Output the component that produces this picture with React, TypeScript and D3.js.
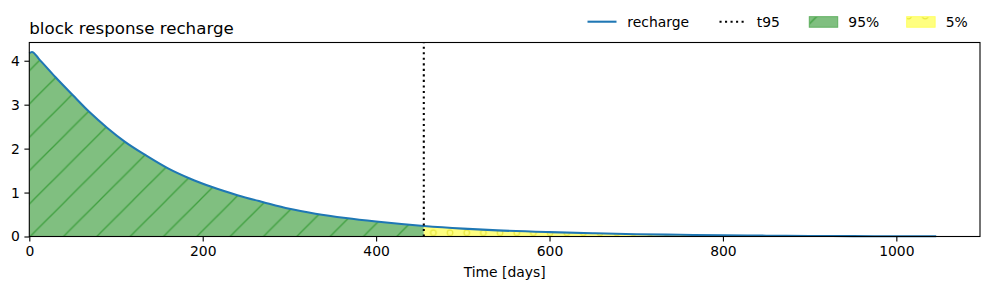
import React, { useEffect, useRef } from 'react';
import * as d3 from 'd3';

// block response of recharge
const days = [0, 3, 12, 30, 50, 70, 90, 110, 135, 160, 185, 210, 240, 270, 300, 330, 365, 400, 455, 500, 540, 600, 650, 700, 750, 800, 850, 900, 950, 1000, 1046];
const recharge = [4.17, 4.2, 4.02, 3.63, 3.22, 2.82, 2.47, 2.16, 1.84, 1.55, 1.32, 1.13, 0.94, 0.78, 0.63, 0.52, 0.42, 0.34, 0.24, 0.18, 0.14, 0.1, 0.075, 0.053, 0.038, 0.027, 0.019, 0.013, 0.009, 0.006, 0.004];
const t95 = 455;
const xTicks = [0, 200, 400, 600, 800, 1000];
const yTicks = [0, 1, 2, 3, 4];
const legendLabels = ['recharge', 't95', '95%', '5%'];

export default function App() {
  const ref = useRef<SVGSVGElement>(null);

  useEffect(() => {
    document.body.style.margin = '0';
    const svg = d3.select(ref.current);
    svg.selectAll('*').remove();
    const font = 'DejaVu Sans';

    const x = d3.scaleLinear().domain([0, 1096.5]).range([29.3, 980]);
    const y = d3.scaleLinear().domain([0, 4.415]).range([236.5, 42.5]);

    const pts: [number, number][] = days.map((d, i) => [d, recharge[i]]);

    // hatch patterns
    const defs = svg.append('defs');
    const s = 33.33;
    const p1 = defs.append('pattern').attr('id', 'hatchSlash')
      .attr('patternUnits', 'userSpaceOnUse').attr('width', s).attr('height', s);
    p1.append('rect').attr('width', s).attr('height', s).attr('fill', '#80bf80');
    [[0, s, s, 0], [-2, 2, 2, -2], [s - 2, s + 2, s + 2, s - 2]].forEach(l => {
      p1.append('line').attr('x1', l[0]).attr('y1', l[1]).attr('x2', l[2]).attr('y2', l[3])
        .attr('stroke', '#40a040').attr('stroke-width', 1.3);
    });

    const c = 16.67;
    const p2 = defs.append('pattern').attr('id', 'hatchCircle')
      .attr('patternUnits', 'userSpaceOnUse').attr('y', -0.6).attr('width', c).attr('height', 2 * c);
    p2.append('rect').attr('width', c).attr('height', 2 * c).attr('fill', '#ffff80');
    [[0, 0], [c, 0], [c / 2, c], [0, 2 * c], [c, 2 * c]].forEach(p => {
      p2.append('circle').attr('cx', p[0]).attr('cy', p[1]).attr('r', 2.8)
        .attr('fill', 'none').attr('stroke', '#e8e840').attr('stroke-width', 1.2);
    });

    const area = d3.area<[number, number]>()
      .x(d => x(d[0])).y0(y(0)).y1(d => y(d[1]))
      .curve(d3.curveMonotoneX);

    svg.append('path').datum(pts.filter(d => d[0] <= t95))
      .attr('d', area).attr('fill', 'url(#hatchSlash)');
    svg.append('path').datum(pts.filter(d => d[0] >= t95))
      .attr('d', area).attr('fill', 'url(#hatchCircle)');

    const line = d3.line<[number, number]>()
      .x(d => x(d[0])).y(d => y(d[1]))
      .curve(d3.curveMonotoneX);
    svg.append('path').datum(pts).attr('d', line)
      .attr('fill', 'none').attr('stroke', '#1f77b4').attr('stroke-width', 2.08);

    svg.append('line')
      .attr('x1', x(t95)).attr('x2', x(t95)).attr('y1', y.range()[0]).attr('y2', y.range()[1])
      .attr('stroke', '#000').attr('stroke-width', 2.08).attr('stroke-dasharray', '2.08,3.44');

    // axes
    const xAxis = svg.append('g').attr('transform', `translate(0,${y.range()[0]})`)
      .call(d3.axisBottom(x).tickValues(xTicks).tickSize(4.9).tickPadding(4.5).tickFormat(d3.format('d')));
    const yAxis = svg.append('g').attr('transform', `translate(${x.range()[0]},0)`)
      .call(d3.axisLeft(y).tickValues(yTicks).tickSize(4.9).tickPadding(4.5).tickFormat(d3.format('d')));
    [xAxis, yAxis].forEach(g => {
      g.select('.domain').remove();
      g.selectAll('line').attr('stroke', '#000').attr('stroke-width', 1.1);
      g.selectAll('text').attr('font-family', font).attr('font-size', 13.9).attr('fill', '#000');
    });

    svg.append('rect')
      .attr('x', x.range()[0]).attr('y', y.range()[1])
      .attr('width', x.range()[1] - x.range()[0]).attr('height', y.range()[0] - y.range()[1])
      .attr('fill', 'none').attr('stroke', '#000').attr('stroke-width', 1.1);

    svg.append('text').attr('x', (x.range()[0] + x.range()[1]) / 2).attr('y', 276.5)
      .attr('text-anchor', 'middle').attr('font-family', font).attr('font-size', 13.9)
      .text('Time [days]');

    svg.append('text').attr('x', 29.3).attr('y', 34)
      .attr('font-family', font).attr('font-size', 16.67)
      .text('block response recharge');

    // legend
    const ly = 21.7;
    const lg = svg.append('g');
    lg.append('line').attr('x1', 587.5).attr('x2', 616.5).attr('y1', ly).attr('y2', ly)
      .attr('stroke', '#1f77b4').attr('stroke-width', 2.08);
    lg.append('line').attr('x1', 719.5).attr('x2', 747).attr('y1', ly).attr('y2', ly)
      .attr('stroke', '#000').attr('stroke-width', 2.08).attr('stroke-dasharray', '2.08,3.44');
    lg.append('rect').attr('x', 809.3).attr('y', 16.7).attr('width', 28.4).attr('height', 10.5)
      .attr('fill', 'url(#hatchSlash)').attr('stroke', '#60b060').attr('stroke-width', 1);
    lg.append('rect').attr('x', 906.7).attr('y', 16.7).attr('width', 28.4).attr('height', 10.5)
      .attr('fill', 'url(#hatchCircle)').attr('stroke', '#ffff60').attr('stroke-width', 1);
    const lx = [627.3, 756.7, 848.3, 945.7];
    legendLabels.forEach((t, i) => {
      lg.append('text').attr('x', lx[i]).attr('y', 26.8)
        .attr('font-family', font).attr('font-size', 13.9).text(t);
    });
  }, []);

  return <svg ref={ref} width={989} height={290} style={{ display: 'block' }} />;
}
